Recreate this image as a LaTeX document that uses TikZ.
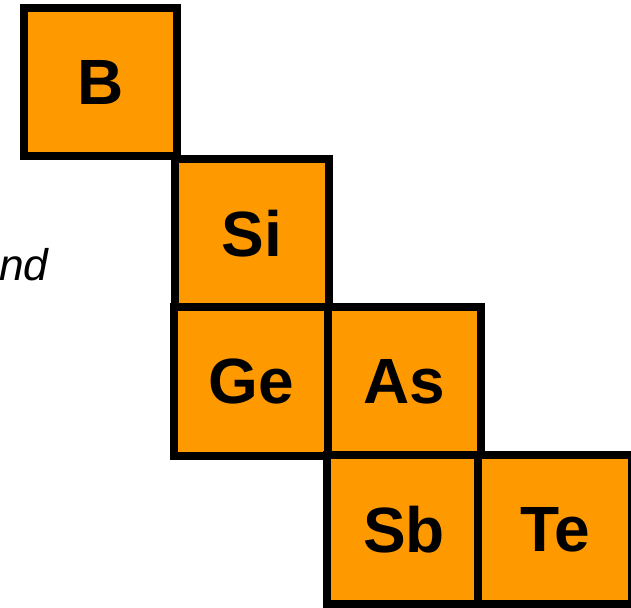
\documentclass[tikz,border=0pt]{standalone}
\usepackage{fontspec}
\setmainfont{Liberation Sans}
\definecolor{CellClr}{RGB}{255,153,0}

\begin{document}
\begin{tikzpicture}[x=0.025cm,y=-0.025cm,
  cell/.style={draw=black,fill=CellClr,line width=0.2cm,outer sep=0pt,
    minimum width=3.825cm,minimum height=3.7cm,inner sep=0pt,
    font=\bfseries\fontsize{45.5}{46}\selectfont}]
\useasboundingbox (0,0) rectangle (631,607);

% metalloid staircase
\node[cell] (B)  at (100.5,82)  {B};
\node[cell] (Si) at (252,233.5) {Si};
\node[cell] (Ge) at (251,381.5) {Ge};
\node[cell] (As) at (404.5,381.5) {As};
\node[cell] (Sb) at (404,529.5) {Sb};
\node[cell] (Te) at (555,529.5) {Te};

\node[anchor=base west,inner sep=0pt,font=\itshape\fontsize{31.5}{33}\selectfont] (nd) at (-1,280) {nd};

\end{tikzpicture}
\end{document}
